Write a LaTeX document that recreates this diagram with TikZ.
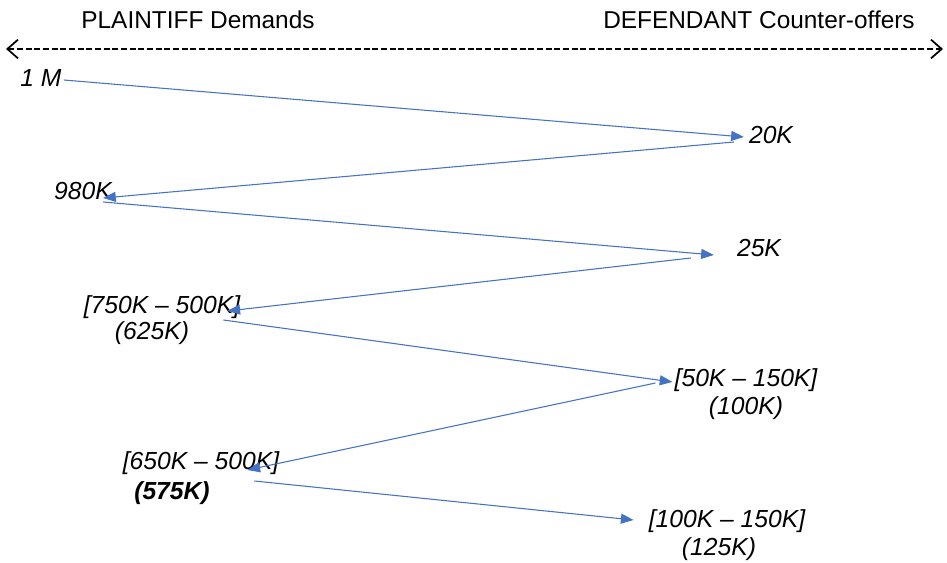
\documentclass[tikz,border=0pt]{standalone}
\usepackage{fontspec}
\setmainfont{Liberation Sans}
\usetikzlibrary{arrows.meta}
\definecolor{offerblue}{HTML}{4472C4}
\tikzset{
  label/.style={inner sep=0pt,font=\fontsize{18.5}{21}\selectfont\itshape},
  heading/.style={inner sep=0pt,font=\fontsize{18.3}{21}\selectfont},
  offer/.style={offerblue,line width=0.8pt,-{Triangle[length=9.5pt,width=7.5pt]}},
  barb/.tip={Straight Barb[length=8pt,width=14pt,line width=1.3pt]}
}
\begin{document}
\begin{tikzpicture}[x=0.75pt,y=-0.75pt]
\useasboundingbox (0,0) rectangle (947,563);
\node[heading] (plaintiff) at (198,20) {PLAINTIFF Demands};
\node[heading] (defendant) at (759,20) {DEFENDANT Counter-offers};
\coordinate (leftend) at (6,49);
\coordinate (rightend) at (943,49);
\draw[line width=1.2pt,dash pattern=on 4.5pt off 2pt,barb-barb] (leftend) -- (rightend);
\node[label] (m1) at (41,78) {1 M};
\node[label] (d1) at (771,135) {20K};
\node[label] (m2) at (83,191) {980K};
\node[label] (d2) at (759,248) {25K};
\node[label] (m3) at (162,307) {[750K -- 500K]};
\node[label] (m3mid) at (152,333) {(625K)};
\node[label] (d3) at (746,380) {[50K -- 150K]};
\node[label] (d3mid) at (746,408) {(100K)};
\node[label] (m4) at (201,463) {[650K -- 500K]};
\node[label,font=\fontsize{18.5}{21}\selectfont\bfseries\itshape] (m4mid) at (172,493) {(575K)};
\node[label] (d4) at (727,521) {[100K -- 150K]};
\node[label] (d4mid) at (719,549) {(125K)};
\draw[offer] ([shift={(2,2)}]m1.east) -- ([shift={(-5,2)}]d1.west);
\draw[offer] ([shift={(-15,7)}]d1.west) -- ([shift={(-9,7)}]m2.east);
\draw[offer] ([shift={(-9,11)}]m2.east) -- ([shift={(-23,7)}]d2.west);
\draw[offer] ([shift={(-46,10)}]d2.west) -- ([shift={(-13,4)}]m3.east);
\draw[offer] ([shift={(-17,13)}]m3.east) -- ([shift={(-2,2)}]d3.west);
\draw[offer] ([shift={(-19,3)}]d3.west) -- ([shift={(-32,7)}]m4.east);
\draw[offer] ([shift={(-25,18)}]m4.east) -- ([shift={(-15,-1)}]d4.west);
\end{tikzpicture}
\end{document}
